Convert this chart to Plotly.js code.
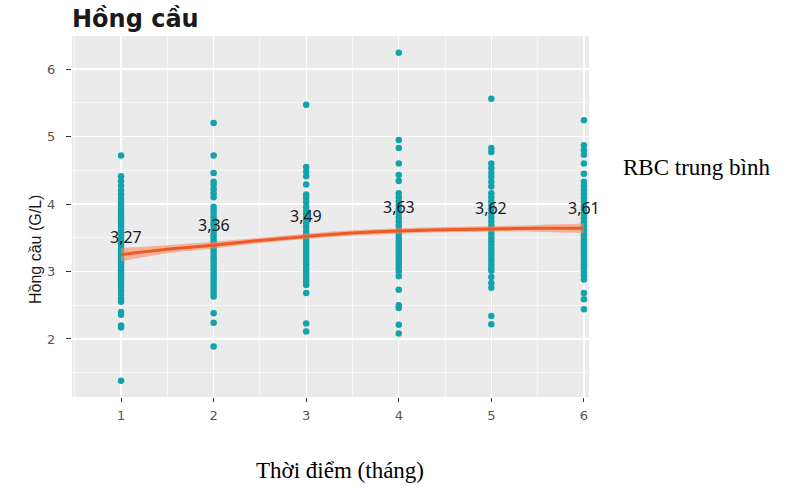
<!DOCTYPE html>
<html>
<head>
<meta charset="utf-8">
<script src="https://cdn.plot.ly/plotly-3.0.1.min.js"></script>
<style>html,body{margin:0;padding:0;background:#fff;}#chart{width:793px;height:488px;}</style>
</head>
<body>
<div id="chart"></div>
<script>
// Months (x categories)
const months = [1, 2, 3, 4, 5, 6];
const tickLabels = ["1", "2", "3", "4", "5", "6"];

// Individual RBC values per month
const rbcMonth1 = [4.72, 4.41, 4.34, 4.27, 4.2, 4.14, 4.08, 4.03, 3.98, 3.93, 3.89, 3.84, 3.8, 3.76, 3.71, 3.67, 3.63, 3.58, 3.54, 3.5, 3.46, 3.42, 3.38, 3.34, 3.3, 3.26, 3.22, 3.18, 3.14, 3.1, 3.06, 3.02, 2.98, 2.94, 2.9, 2.86, 2.82, 2.77, 2.72, 2.66, 2.6, 2.55, 2.4, 2.36, 2.2, 2.17, 1.38];
const rbcMonth2 = [5.2, 4.72, 4.46, 4.33, 4.28, 4.22, 4.16, 4.1, 3.96, 3.91, 3.86, 3.8, 3.75, 3.7, 3.65, 3.6, 3.55, 3.5, 3.45, 3.4, 3.36, 3.32, 3.27, 3.22, 3.18, 3.13, 3.08, 3.03, 2.98, 2.93, 2.88, 2.83, 2.78, 2.73, 2.68, 2.63, 2.38, 2.24, 1.89];
const rbcMonth3 = [5.47, 4.55, 4.48, 4.41, 4.29, 4.14, 4.09, 4.03, 3.96, 3.9, 3.84, 3.78, 3.72, 3.66, 3.6, 3.55, 3.5, 3.45, 3.4, 3.35, 3.3, 3.25, 3.2, 3.15, 3.1, 3.05, 3.0, 2.95, 2.9, 2.85, 2.8, 2.68, 2.23, 2.11];
const rbcMonth4 = [6.24, 4.95, 4.83, 4.6, 4.43, 4.34, 4.16, 4.1, 4.04, 3.98, 3.92, 3.86, 3.8, 3.74, 3.68, 3.62, 3.56, 3.5, 3.45, 3.4, 3.35, 3.3, 3.25, 3.2, 3.15, 3.1, 3.05, 3.0, 2.93, 2.73, 2.5, 2.46, 2.21, 2.08];
const rbcMonth5 = [5.56, 4.83, 4.77, 4.6, 4.53, 4.46, 4.4, 4.33, 4.26, 4.16, 4.1, 4.04, 3.98, 3.92, 3.86, 3.8, 3.74, 3.68, 3.62, 3.56, 3.5, 3.45, 3.4, 3.35, 3.3, 3.25, 3.2, 3.15, 3.1, 3.05, 3.01, 2.92, 2.83, 2.76, 2.34, 2.22];
const rbcMonth6 = [5.24, 4.87, 4.8, 4.73, 4.6, 4.45, 4.33, 4.27, 4.21, 4.15, 4.09, 4.03, 3.97, 3.91, 3.85, 3.79, 3.73, 3.67, 3.61, 3.55, 3.5, 3.45, 3.4, 3.35, 3.3, 3.25, 3.2, 3.15, 3.1, 3.05, 3.0, 2.94, 2.88, 2.68, 2.59, 2.44];

// Mean values and their labels
const means = [3.27, 3.36, 3.49, 3.63, 3.62, 3.61];
const meanLabels = ["3,27", "3,36", "3,49", "3,63", "3,62", "3,61"];

// Smoothed trend with confidence band
const smoothX  = [1, 1.5, 2, 2.5, 3, 3.5, 4, 4.5, 5, 5.5, 6];
const smoothY  = [3.25, 3.33, 3.39, 3.46, 3.52, 3.57, 3.60, 3.62, 3.63, 3.64, 3.64];
const smoothLo = [3.15, 3.27, 3.34, 3.42, 3.48, 3.53, 3.56, 3.58, 3.59, 3.59, 3.57];
const smoothHi = [3.35, 3.39, 3.44, 3.50, 3.56, 3.61, 3.64, 3.66, 3.67, 3.69, 3.71];

const perMonth = [rbcMonth1, rbcMonth2, rbcMonth3, rbcMonth4, rbcMonth5, rbcMonth6];
const px = [], py = [];
perMonth.forEach((arr, i) => arr.forEach(v => { px.push(months[i]); py.push(v); }));

const traces = [
  {x: px, y: py, type: 'scatter', mode: 'markers',
   marker: {color: '#14A3AD', size: 6.5}, hoverinfo: 'skip', cliponaxis: true},
  {x: smoothX, y: smoothLo, type: 'scatter', mode: 'lines',
   line: {color: 'rgba(0,0,0,0)', width: 0, shape: 'spline'}, hoverinfo: 'skip'},
  {x: smoothX, y: smoothHi, type: 'scatter', mode: 'lines', fill: 'tonexty',
   fillcolor: 'rgba(244,140,100,0.6)',
   line: {color: 'rgba(0,0,0,0)', width: 0, shape: 'spline'}, hoverinfo: 'skip'},
  {x: smoothX, y: smoothY, type: 'scatter', mode: 'lines',
   line: {color: '#EE5A24', width: 3, shape: 'spline'}, hoverinfo: 'skip'}
];

const PL = 72, PR = 589, PT = 36, PB = 397;
const pw = PR - PL, ph = PB - PT;
const toPX = x => (x - PL) / pw;
const toPY = y => (PB - y) / ph;

const annotations = means.map((m, i) => ({
  x: months[i], y: m, xref: 'x', yref: 'y', text: meanLabels[i],
  showarrow: false, yshift: 22 + (i === 0 ? -6 : 0), xshift: (i === 0 ? 5 : 0),
  font: {family: 'Noto Sans, Open Sans, sans-serif', size: 16, color: '#1a1a1a'}
}));
annotations.push({
  xref: 'paper', yref: 'paper', x: toPX(35), y: toPY(250), textangle: -90,
  text: 'Hồng cầu (G/L)', showarrow: false, xanchor: 'center', yanchor: 'middle',
  font: {family: 'Liberation Sans, Arial, sans-serif', size: 16, color: '#1a1a1a'}
});
annotations.push({
  xref: 'paper', yref: 'paper', x: toPX(340), y: toPY(470),
  text: 'Thời điểm (tháng)', showarrow: false, xanchor: 'center', yanchor: 'middle',
  font: {family: 'Liberation Serif, Times New Roman, serif', size: 23, color: '#000'}
});
annotations.push({
  xref: 'paper', yref: 'paper', x: toPX(621), y: toPY(168),
  text: 'RBC trung bình', showarrow: false, xanchor: 'left', yanchor: 'middle',
  font: {family: 'Liberation Serif, Times New Roman, serif', size: 23, color: '#000'}
});

const tickFont = {family: 'DejaVu Sans, Verdana, sans-serif', size: 13, color: '#555555'};

const layout = {
  width: 793, height: 488,
  margin: {l: PL, r: 793 - PR, t: PT, b: 488 - PB, pad: 0},
  paper_bgcolor: '#ffffff', plot_bgcolor: '#EBEBEB',
  showlegend: false,
  title: {text: 'Hồng cầu', x: 72 / 793, xanchor: 'left', xref: 'container',
          y: 1 - 19 / 488, yanchor: 'middle', yref: 'container',
          font: {family: 'DejaVu Sans, Verdana, sans-serif', size: 24, color: '#1a1a1a', weight: 'bold'}},
  xaxis: {range: [0.47, 6.055], tickmode: 'array', tickvals: months, ticktext: tickLabels,
          showgrid: true, gridcolor: '#ffffff', gridwidth: 1.2, zeroline: false, showline: false,
          ticks: 'outside', ticklen: 4, tickcolor: '#333', tickwidth: 1,
          tickfont: tickFont, ticklabelstandoff: 2,
          minor: {tickmode: 'array', tickvals: [0.5, 1.5, 2.5, 3.5, 4.5, 5.5], showgrid: true,
                  gridcolor: '#ffffff', gridwidth: 0.6, ticks: ''},
          fixedrange: true},
  yaxis: {range: [1.14, 6.49], tickmode: 'array', tickvals: [2, 3, 4, 5, 6],
          showgrid: true, gridcolor: '#ffffff', gridwidth: 1.2, zeroline: false, showline: false,
          ticks: 'outside', ticklen: 5, tickcolor: '#333', tickwidth: 1,
          tickfont: tickFont, ticklabelstandoff: 8,
          minor: {tickmode: 'array', tickvals: [1.5, 2.5, 3.5, 4.5, 5.5], showgrid: true,
                  gridcolor: '#ffffff', gridwidth: 0.6, ticks: ''},
          fixedrange: true},
  annotations: annotations
};

Plotly.newPlot('chart', traces, layout, {displayModeBar: false, staticPlot: true});
</script>
</body>
</html>
